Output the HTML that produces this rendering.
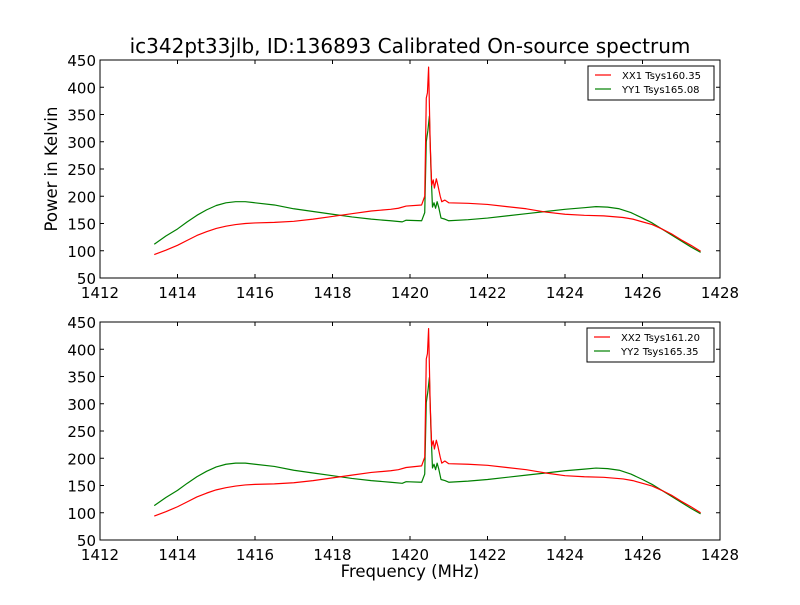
<!DOCTYPE html>
<html><head><meta charset="utf-8"><style>
body{margin:0;background:#fff;}
svg text{font-family:"DejaVu Sans","Liberation Sans",sans-serif;}
</style></head><body>
<svg id="c" width="800" height="600" xmlns="http://www.w3.org/2000/svg">
<rect width="800" height="600" fill="#fff"/>
<text x="410" y="53" font-size="20" text-anchor="middle">ic342pt33jlb, ID:136893 Calibrated On-source spectrum</text>
<text x="410" y="577" font-size="16.5" text-anchor="middle">Frequency (MHz)</text>
<text transform="translate(57,169) rotate(-90)" font-size="16.5" text-anchor="middle">Power in Kelvin</text>
</svg>
<script>
const xTicks=[1412,1414,1416,1418,1420,1422,1424,1426,1428];
const yTicks=[50,100,150,200,250,300,350,400,450];
const freqX=[1413.4,1413.7,1414,1414.25,1414.5,1414.75,1415,1415.25,1415.5,1415.75,1416,1416.5,1417,1417.5,1418,1418.5,1419,1419.5,1419.7,1419.9,1420.3,1420.38,1420.42,1420.45,1420.48,1420.52,1420.56,1420.6,1420.63,1420.68,1420.72,1420.78,1420.82,1420.9,1421,1421.5,1422,1422.5,1423,1423.5,1424,1424.5,1425,1425.5,1425.75,1426,1426.25,1426.5,1426.75,1427,1427.25,1427.5];
const xx1=[93,101,110,119,128,135,141,145,148,150,151,152,154,158,163,168,173,176,178,182,184,200,380,390,437,300,220,230,215,232,220,200,190,193,188,187,185,181,177,171,167,165,164,161,158,153,148,140,131,120,110,99];
const xx2=[94,102,111,120,129,136,142,146,149,151,152,153,155,159,164,169,174,177,179,183,186,202,382,392,438,302,222,232,217,233,222,202,191,195,190,189,187,183,179,173,168,166,165,162,159,154,149,141,132,121,111,100];
const freqY=[1413.4,1413.7,1414,1414.25,1414.5,1414.75,1415,1415.25,1415.5,1415.75,1416,1416.5,1417,1417.5,1418,1418.5,1419,1419.5,1419.8,1419.9,1420.3,1420.38,1420.42,1420.46,1420.5,1420.54,1420.58,1420.62,1420.66,1420.7,1420.74,1420.8,1420.9,1421,1421.5,1422,1422.5,1423,1423.5,1424,1424.5,1424.8,1425.1,1425.4,1425.7,1426,1426.25,1426.5,1426.75,1427,1427.25,1427.5];
const yy1=[112,127,140,153,165,175,183,188,190,190,188,184,177,172,167,162,158,155,153,156,155,170,300,320,347,250,180,188,178,190,180,160,158,155,157,160,164,168,172,176,179,181,180,177,170,160,151,140,129,118,107,97];
const yy2=[113,128,141,154,166,176,184,189,191,191,189,185,178,173,168,163,159,156,154,157,156,171,302,322,348,252,182,189,179,191,181,161,159,156,158,161,165,169,173,177,180,182,181,178,171,161,152,141,130,119,108,98];
const legend1=["XX1 Tsys160.35","YY1 Tsys165.08"];
const legend2=["XX2 Tsys161.20","YY2 Tsys165.35"];
const NS="http://www.w3.org/2000/svg";
const svg=document.getElementById('c');
function mk(t,a,p){const e=document.createElementNS(NS,t);for(const k in a)e.setAttribute(k,a[k]);(p||svg).appendChild(e);return e;}
function panel(top,name,r,g,leg,lx){
 const L=100,R=720,T=top,B=top+218;
 const sx=v=>L+(v-1412)/(1428-1412)*(R-L);
 const sy=v=>B-(v-50)/(450-50)*(B-T);
 const grp=mk('g',{});
 
 
 const mkLine=(xs,ys,col,nm)=>{let d='';xs.forEach((x,i)=>{d+=(i?'L':'M')+sx(x).toFixed(2)+','+sy(ys[i]).toFixed(2);});
  const p=mk('path',{d:d,fill:'none',stroke:col,'stroke-width':1.2,'stroke-linejoin':'round'},grp);
  
  };
 mkLine(freqY,g,'#008000',name+'-yy-line');
 mkLine(freqX,r,'#ff0000',name+'-xx-line');
 mk('rect',{x:L,y:T,width:R-L,height:B-T,fill:'none',stroke:'#000','stroke-width':1},grp);
 xTicks.forEach(v=>{const x=sx(v);
  mk('line',{x1:x,x2:x,y1:B,y2:B-4,stroke:'#000'},grp);mk('line',{x1:x,x2:x,y1:T,y2:T+4,stroke:'#000'},grp);
  const t=mk('text',{x:x,y:B+20,'font-size':15,'text-anchor':'middle'},grp);t.textContent=v;
  
  });
 yTicks.forEach(v=>{const y=sy(v);
  mk('line',{x1:L,x2:L+4,y1:y,y2:y,stroke:'#000'},grp);mk('line',{x1:R,x2:R-4,y1:y,y2:y,stroke:'#000'},grp);
  const t=mk('text',{x:L-4,y:y+6,'font-size':15,'text-anchor':'end'},grp);t.textContent=v;
  
  });
 const lg=mk('g',{},grp);
 
 
 mk('rect',{x:lx,y:T+6,width:714-lx,height:34,fill:'#fff',stroke:'#000','stroke-width':1},lg);
 [['#ff0000',leg[0]],['#008000',leg[1]]].forEach((e,i)=>{const y=T+15+i*14;
  mk('line',{x1:lx+7,x2:lx+23,y1:y,y2:y,stroke:e[0],'stroke-width':1.2},lg);
  const t=mk('text',{x:lx+34,y:y+4,'font-size':10},lg);t.textContent=e[1];
  
  });
}
panel(60,'top-panel',xx1,yy1,legend1,588);
panel(322,'bottom-panel',xx2,yy2,legend2,587);
</script>
</body></html>
